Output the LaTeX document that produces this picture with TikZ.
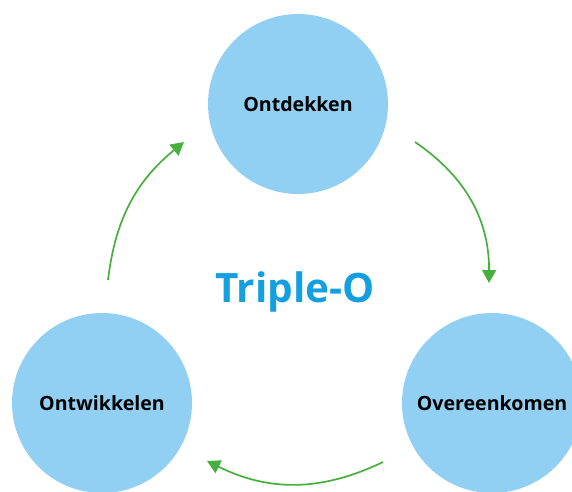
\documentclass[tikz,border=0pt]{standalone}
\usepackage{fontspec}
\setmainfont{Open Sans}
\usetikzlibrary{arrows.meta}
\definecolor{circblue}{HTML}{92D0F3}
\definecolor{titleblue}{HTML}{149FE0}
\definecolor{arrgreen}{HTML}{46B03C}
\begin{document}
\begin{tikzpicture}[x=1pt,y=-1pt,
  phase/.style={circle,fill=circblue,minimum size=180pt,inner sep=0pt,font=\fontsize{19.6}{22}\selectfont\bfseries,text=black},
  cycarrow/.style={draw=arrgreen,line width=1.7pt,-{Triangle[length=13pt,width=14pt]}}]
\useasboundingbox (0,0) rectangle (572,491);
\clip (0,0) rectangle (572,491);
\node[phase] (ont) at (298,104) {Ontdekken};
\node[phase] (over) at (492,403) {Overeenkomen};
\node[phase] (ontw) at (102,403) {Ontwikkelen};
\node[font=\fontsize{40.5}{44}\selectfont\bfseries,text=titleblue] (title) at (295,292) {Triple-O};
\coordinate (a1s) at (415,142);
\coordinate (a1e) at (489,283);
\coordinate (a2s) at (383,462);
\coordinate (a2e) at (207,461);
\coordinate (a3s) at (108,280);
\coordinate (a3e) at (184,142);
\draw[cycarrow] (a1s) to[bend left=28] (a1e);
\draw[cycarrow] (a2s) to[bend left=26] (a2e);
\draw[cycarrow] (a3s) to[bend left=22] (a3e);
\end{tikzpicture}
\end{document}
